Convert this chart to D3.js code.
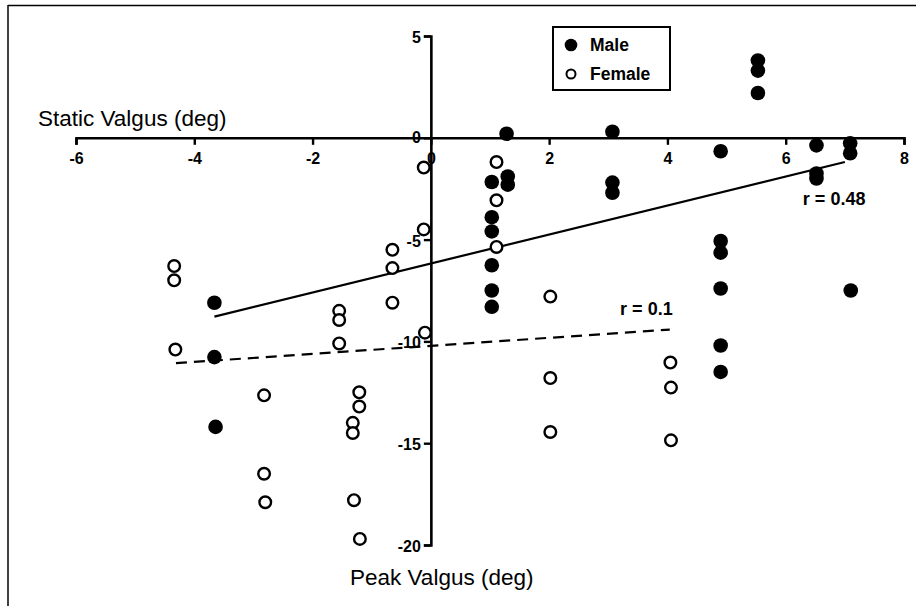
<!DOCTYPE html>
<html><head><meta charset="utf-8">
<script src="https://cdn.jsdelivr.net/npm/d3@7"></script>
<style>
html,body{margin:0;padding:0;background:#fff;}
svg{display:block;}
text{font-family:"Liberation Sans",Arial,sans-serif;fill:#000;}
</style></head>
<body>
<svg id="c" width="920" height="606"></svg>
<script>
// Peak valgus (x, deg) vs static valgus (y, deg)
const maleX = [1.28, 3.07, 5.53, 5.53, 5.53, 4.9, 6.52, 7.09, 7.09, 6.52, 6.52, 3.07, 3.07, 1.03, 1.3, 1.3, 1.03, 1.03, 1.03, 1.03, 1.03, 4.9, 4.9, 4.9, 4.9, 4.9, 7.1, -3.66, -3.66, -3.64];
const maleY = [0.2, 0.3, 3.8, 3.3, 2.2, -0.66, -0.37, -0.27, -0.76, -1.75, -2.0, -2.2, -2.7, -2.17, -1.9, -2.3, -3.9, -4.6, -6.26, -7.5, -8.3, -5.07, -5.64, -7.4, -10.2, -11.5, -7.5, -8.1, -10.77, -14.2];
const femaleX = [-0.12, -0.12, 1.11, 1.11, 1.11, -0.65, -0.65, -0.65, -4.34, -4.34, -4.32, -1.55, -1.55, -1.55, -0.1, -2.82, -2.82, -2.8, -1.21, -1.21, -1.32, -1.32, -1.3, -1.2, 2.02, 2.02, 2.02, 4.05, 4.06, 4.06];
const femaleY = [-1.46, -4.5, -1.19, -3.07, -5.36, -5.5, -6.4, -8.1, -6.3, -7.0, -10.4, -8.5, -8.95, -10.1, -9.57, -12.65, -16.5, -17.9, -12.5, -13.2, -14.0, -14.5, -17.8, -19.7, -7.8, -11.8, -14.45, -11.04, -12.27, -14.86];
const maleFitX = [-3.66, 7.0];
const maleFitY = [-8.78, -1.19];
const femaleFitX = [-4.31, 4.04];
const femaleFitY = [-11.07, -9.42];
const xTicks = [-6, -4, -2, 0, 2, 4, 6, 8];
const yTicks = [5, 0, -5, -10, -15, -20];
const xTitle = "Peak Valgus (deg)";
const yTitle = "Static Valgus (deg)";
const legendLabels = ["Male", "Female"];
const rLabels = ["r = 0.48", "r = 0.1"];

const svg = d3.select("#c");
const x = d3.scaleLinear().domain([-6, 8]).range([76, 904]);
const y = d3.scaleLinear().domain([-20, 5]).range([545, 36]);

// frame (top & left only)
svg.append("line").attr("x1",8).attr("x2",916).attr("y1",5.5).attr("y2",5.5).attr("stroke","#000").attr("stroke-width",1.5);
svg.append("line").attr("x1",8).attr("x2",8).attr("y1",5).attr("y2",606).attr("stroke","#000").attr("stroke-width",1.5);

// x axis at y=0
const xa = svg.append("g").attr("transform",`translate(0,${y(0)})`)
  .call(d3.axisBottom(x).tickValues(xTicks).tickSize(7).tickPadding(8).tickFormat(d=>d<0?"-"+Math.abs(d):d));
// y axis at x=0
const ya = svg.append("g").attr("transform",`translate(${x(0)},0)`)
  .call(d3.axisLeft(y).tickValues(yTicks).tickSize(7).tickPadding(3).tickFormat(d=>d<0?"-"+Math.abs(d):d));
[xa, ya].forEach(g=>{
  g.select(".domain").attr("stroke","#000").attr("stroke-width",2.6);
  g.selectAll(".tick line").attr("stroke","#000").attr("stroke-width",2.4);
  g.selectAll(".tick text").attr("font-size",16).attr("font-weight","bold").attr("font-family","Liberation Sans, Arial, sans-serif").attr("fill","#000");
});
ya.selectAll(".tick text").attr("dy","0.4em");
ya.selectAll(".tick").filter(d=>d===0).select("text").attr("dy","0.3em");

// titles
svg.append("text").attr("x",38).attr("y",126).attr("font-size",22.5).text(yTitle);
svg.append("text").attr("x",350).attr("y",585).attr("font-size",22.5).text(xTitle);

// fit lines
svg.append("line").attr("x1",x(maleFitX[0])).attr("y1",y(maleFitY[0])).attr("x2",x(maleFitX[1])).attr("y2",y(maleFitY[1]))
  .attr("stroke","#000").attr("stroke-width",2.2);
svg.append("line").attr("x1",x(femaleFitX[0])).attr("y1",y(femaleFitY[0])).attr("x2",x(femaleFitX[1])).attr("y2",y(femaleFitY[1]))
  .attr("stroke","#000").attr("stroke-width",2.2).attr("stroke-dasharray","11,7");

svg.append("text").attr("x",x(6.29)).attr("y",y(-3.3)).attr("font-size",18).attr("font-weight","bold").text(rLabels[0]);
svg.append("text").attr("x",x(3.2)).attr("y",y(-8.7)).attr("font-size",18).attr("font-weight","bold").text(rLabels[1]);

// points
const male = maleX.map((v,i)=>({x:v,y:maleY[i]}));
const female = femaleX.map((v,i)=>({x:v,y:femaleY[i]}));
svg.append("g").selectAll("circle").data(female).join("circle")
  .attr("cx",d=>x(d.x)).attr("cy",d=>y(d.y)).attr("r",5.8)
  .attr("fill","#fff").attr("stroke","#000").attr("stroke-width",2.4);
svg.append("g").selectAll("circle").data(male).join("circle")
  .attr("cx",d=>x(d.x)).attr("cy",d=>y(d.y)).attr("r",7.3).attr("fill","#000");

// legend
const lg = svg.append("g");
lg.append("rect").attr("x",553).attr("y",27).attr("width",117).attr("height",63).attr("fill","#fff").attr("stroke","#000").attr("stroke-width",2);
lg.append("circle").attr("cx",571).attr("cy",45).attr("r",6.3).attr("fill","#000");
lg.append("circle").attr("cx",571).attr("cy",74).attr("r",4.5).attr("fill","#fff").attr("stroke","#000").attr("stroke-width",2);
lg.append("text").attr("x",590).attr("y",51).attr("font-size",17.5).attr("font-weight","bold").text(legendLabels[0]);
lg.append("text").attr("x",590).attr("y",80).attr("font-size",17.5).attr("font-weight","bold").text(legendLabels[1]);
</script>
</body></html>
